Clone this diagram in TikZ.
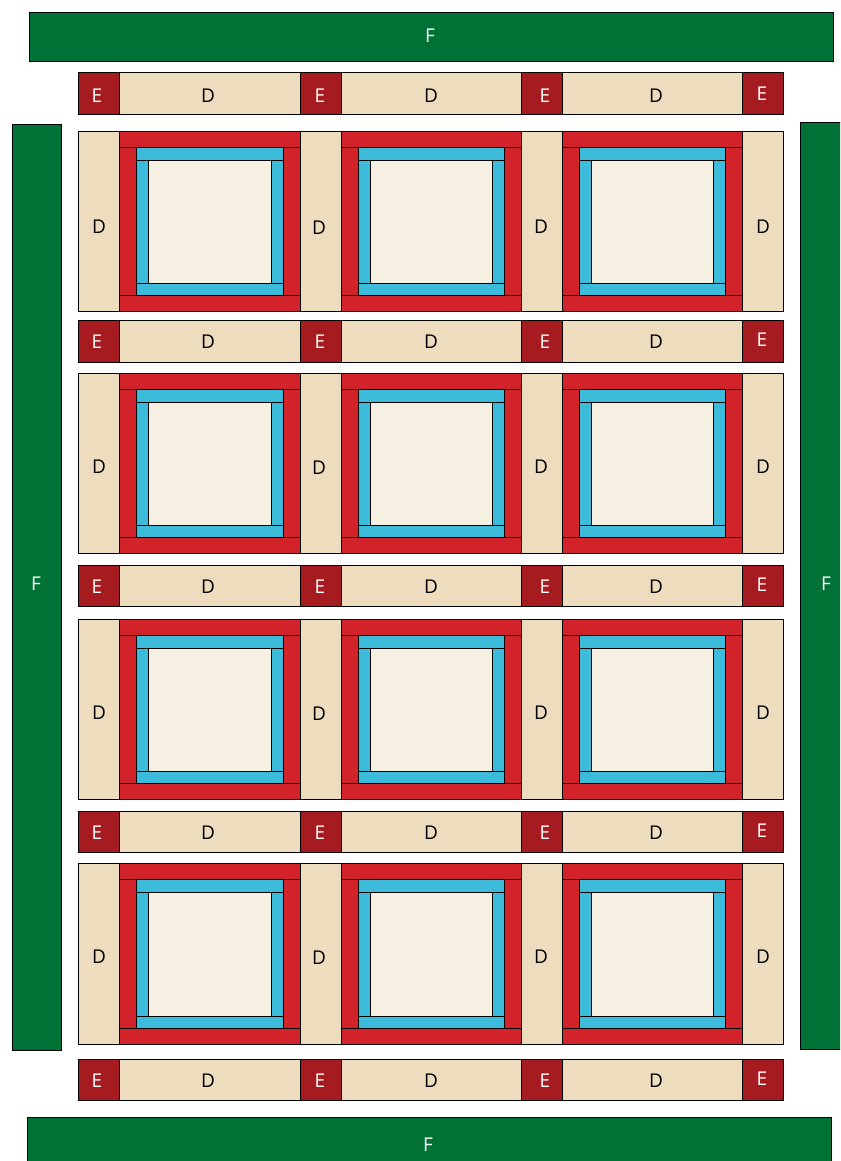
\documentclass[tikz,border=0pt]{standalone}
\usepackage{fontspec}
\setmainfont{Open Sans}
\definecolor{fgreen}{HTML}{007236}
\definecolor{ered}{HTML}{A61B20}
\definecolor{dtan}{HTML}{EDDDBE}
\definecolor{rred}{HTML}{D2232A}
\definecolor{bblue}{HTML}{3DBBDB}
\definecolor{cream}{HTML}{F5F0E1}
\begin{document}
\begin{tikzpicture}[x=1pt,y=-1pt,
  piece/.style={draw=black,line width=0.8pt},
  fpiece/.style={piece,fill=fgreen},
  epiece/.style={piece,fill=ered},
  dpiece/.style={piece,fill=dtan},
  rpiece/.style={piece,fill=rred},
  bpiece/.style={piece,fill=bblue},
  cpiece/.style={piece,fill=cream},
  lblw/.style={text=white,font=\fontsize{19}{20}\selectfont,inner sep=0pt},
  lblk/.style={text=black,font=\fontsize{19}{20}\selectfont,inner sep=0pt}]
\useasboundingbox (0,0) rectangle (840,1161);
\clip (0,0) rectangle (840,1161);
\fill[white] (0,0) rectangle (840,1161);
% borders F
\draw[fpiece] (29,12) rectangle (833,61);
\draw[fpiece] (12,124) rectangle (61,1050);
\draw[fpiece] (800,122) rectangle (850,1049);
\draw[fpiece] (27,1117) rectangle (831,1175);
\node[lblw] (ftop) at (430,36) {F};
\node[lblw] (fleft) at (36,584) {F};
\node[lblw] (fright) at (826,584) {F};
\node[lblw] (fbot) at (428,1145) {F};
% sashing rows
\foreach \yt/\yb/\ly/\ry [count=\r] in {72/114/96/92, 320/362/342/340, 565/606/587/586, 811/852/833/830, 1059/1100/1081/1079}{
  \draw[epiece] (78,\yt) rectangle (119,\yb);
  \draw[dpiece] (119,\yt) rectangle (300,\yb);
  \draw[epiece] (300,\yt) rectangle (341,\yb);
  \draw[dpiece] (341,\yt) rectangle (521,\yb);
  \draw[epiece] (521,\yt) rectangle (562,\yb);
  \draw[dpiece] (562,\yt) rectangle (742,\yb);
  \draw[epiece] (742,\yt) rectangle (783,\yb);
  \node[lblw] (se\r a) at (97,\ly) {E};
  \node[lblk] (sd\r a) at (208,\ly) {D};
  \node[lblw] (se\r b) at (320,\ly) {E};
  \node[lblk] (sd\r b) at (431,\ly) {D};
  \node[lblw] (se\r c) at (545,\ly) {E};
  \node[lblk] (sd\r c) at (656,\ly) {D};
  \node[lblw] (se\r d) at (762,\ly-2) {E};
}
% block rows
\foreach \yt/\yb/\ly [count=\r] in {131/311/227, 373/553/467, 619/799/713, 863/1044/957}{
  \draw[dpiece] (78,\yt) rectangle (119,\yb);
  \draw[dpiece] (300,\yt) rectangle (341,\yb);
  \draw[dpiece] (521,\yt) rectangle (562,\yb);
  \draw[dpiece] (742,\yt) rectangle (783,\yb);
  \node[lblk] (bd\r a) at (99,\ly) {D};
  \node[lblk] (bd\r b) at (319,\ly+1) {D};
  \node[lblk] (bd\r c) at (541,\ly) {D};
  \node[lblk] (bd\r d) at (763,\ly) {D};
  \foreach \xl/\xr in {119/300, 341/521, 562/742}{
    % red frame
    \draw[rpiece] (\xl,\yt) rectangle (\xr,\yt+16);
    \draw[rpiece] (\xl,\yb-16) rectangle (\xr,\yb);
    \draw[rpiece] (\xl,\yt+16) rectangle (\xl+17,\yb-16);
    \draw[rpiece] (\xr-17,\yt+16) rectangle (\xr,\yb-16);
    % blue frame
    \draw[bpiece] (\xl+17,\yt+16) rectangle (\xr-17,\yt+29);
    \draw[bpiece] (\xl+17,\yb-28) rectangle (\xr-17,\yb-16);
    \draw[bpiece] (\xl+17,\yt+29) rectangle (\xl+29,\yb-28);
    \draw[bpiece] (\xr-29,\yt+29) rectangle (\xr-17,\yb-28);
    % centre
    \draw[cpiece] (\xl+29,\yt+29) rectangle (\xr-29,\yb-28);
  }
}
\end{tikzpicture}
\end{document}
